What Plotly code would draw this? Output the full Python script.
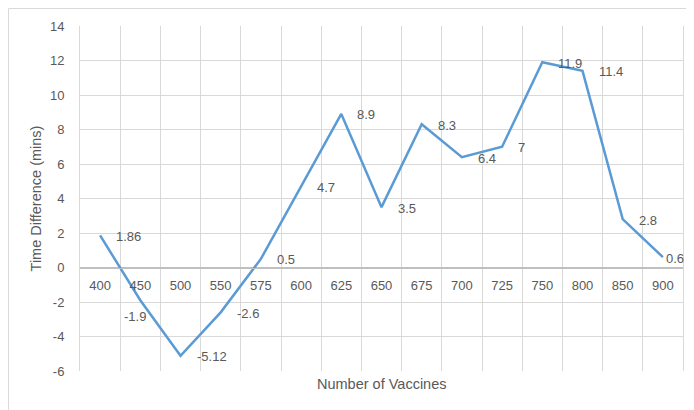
import plotly.graph_objects as go

vaccines = ["400", "450", "500", "550", "575", "600", "625", "650",
            "675", "700", "725", "750", "800", "850", "900"]
time_diff = [1.86, -1.9, -5.12, -2.6, 0.5, 4.7, 8.9, 3.5,
             8.3, 6.4, 7, 11.9, 11.4, 2.8, 0.6]
label_text = ["1.86", "-1.9", "-5.12", "-2.6", "0.5", "4.7", "8.9", "3.5",
              "8.3", "6.4", "7", "11.9", "11.4", "2.8", "0.6"]
y_ticks = [-6, -4, -2, 0, 2, 4, 6, 8, 10, 12, 14]
y_tick_labels = ["-6", "-4", "-2", "0", "2", "4", "6", "8", "10", "12", "14"]

grey = "#595959"
grid = "#d9d9d9"
font = "Liberation Sans"

fig = go.Figure()

fig.add_trace(go.Scatter(
    x=vaccines, y=time_diff,
    mode="lines",
    line=dict(color="#5B9BD5", width=2.5),
    showlegend=False,
))

# data labels, Excel-style to the right of each point (one sits below)
last = len(time_diff) - 1
for i, (val, txt) in enumerate(zip(time_diff, label_text)):
    below = txt == "-1.9"
    shift = 14
    if below:
        shift = -5
    elif i == last:
        shift = 1  # keep it inside the window edge
    fig.add_annotation(
        x=i, y=val, text=txt, showarrow=False,
        xanchor="center" if below else "left",
        yanchor="middle",
        xshift=shift,
        yshift=-16 if below else -1,
        font=dict(family=font, size=13, color=grey),
    )

fig.add_annotation(
    x=0.5, y=-0.009, xref="paper", yref="paper",
    text="Number of Vaccines", showarrow=False,
    xanchor="center", yanchor="top",
    font=dict(family=font, size=14.5, color=grey),
)

# outer chart frame
fig.add_shape(type="rect", xref="paper", yref="paper",
              x0=-0.1186, x1=1.1, y0=-0.3, y1=1.0507,
              line=dict(color="#d9d9d9", width=1), layer="below")

fig.update_xaxes(
    type="category",
    tickson="boundaries",
    showgrid=True, gridcolor=grid, gridwidth=1,
    anchor="free", position=0.3,
    showline=True, linecolor="#bfbfbf", linewidth=1,
    ticks="", ticklabelstandoff=6,
    tickfont=dict(family=font, size=13, color=grey),
    range=[-0.5, 14.5],
)

fig.update_yaxes(
    range=[-6, 14], tickvals=y_ticks, ticktext=y_tick_labels,
    showgrid=True, gridcolor=grid, gridwidth=1,
    zeroline=True, zerolinecolor="#bfbfbf", zerolinewidth=1,
    showline=True, mirror=True, linecolor=grid, linewidth=1,
    ticks="", ticklabelstandoff=12,
    tickfont=dict(family=font, size=13, color=grey),
    title=dict(text="Time Difference (mins)", standoff=4,
               font=dict(family=font, size=14.5, color=grey)),
)

# page has an 8px body margin, so the figure is 8px smaller than the window
fig.update_layout(
    width=686, height=402,
    margin=dict(l=72, r=11, t=18, b=39),
    plot_bgcolor="white", paper_bgcolor="white",
)

fig.write_html("out.html", config={"displayModeBar": False})
